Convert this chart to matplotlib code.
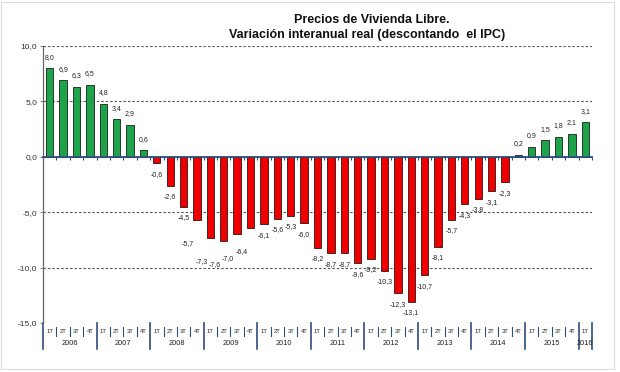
import matplotlib
matplotlib.use("Agg")
import matplotlib.pyplot as plt
from matplotlib.patches import Rectangle

plt.rcParams['font.family'] = ['Liberation Sans', 'DejaVu Sans']

years = ["2006", "2007", "2008", "2009", "2010", "2011", "2012", "2013", "2014", "2015", "2016"]
quarters_per_year = [4, 4, 4, 4, 4, 4, 4, 4, 4, 4, 1]
quarter_names = ["1T", "2T", "3T", "4T"]
values = [8.0, 6.9, 6.3, 6.5,
          4.8, 3.4, 2.9, 0.6,
          -0.6, -2.6, -4.5, -5.7,
          -7.3, -7.6, -7.0, -6.4,
          -6.1, -5.6, -5.3, -6.0,
          -8.2, -8.7, -8.7, -9.6,
          -9.2, -10.3, -12.3, -13.1,
          -10.7, -8.1, -5.7, -4.3,
          -3.8, -3.1, -2.3, 0.2,
          0.9, 1.5, 1.8, 2.1,
          3.1]
yticks = [10, 5, 0, -5, -10, -15]

# extra label displacement (pixels) for crowded labels
label_shift = {11: (-9, -13), 12: (-9, -13), 13: (-9, -13), 14: (-9, -13), 15: (-9, -13)}

W, H = 620, 372
fig = plt.figure(figsize=(W / 100, H / 100), dpi=100)
fig.patch.set_facecolor("white")
fig.add_artist(Rectangle((0.002, 0.008), 0.99 - 0.002, 0.995 - 0.008, transform=fig.transFigure,
                         fill=False, edgecolor="#dcdcdc", lw=0.8))

left, right, top, bottom = 43, 592, 46, 323
ax = fig.add_axes([left / W, 1 - bottom / H, (right - left) / W, (bottom - top) / H])

n = len(values)
xs = list(range(n))
colors = ["#1ea34a" if v >= 0 else "#ee0000" for v in values]
ax.bar(xs, values, width=0.55, color=colors, edgecolor="black", linewidth=0.5, zorder=3)

ax.set_xlim(-0.5, n - 0.5)
ax.set_ylim(-15, 10)
ax.set_yticks(yticks)
ax.set_yticklabels([f"{t:.1f}".replace(".", ",") for t in yticks], fontsize=6, color="#333333")
ax.yaxis.grid(True, linestyle=(0, (2.2, 1.8)), color="#555555", linewidth=0.8, zorder=1)
ax.set_axisbelow(True)

for s in ["top", "right"]:
    ax.spines[s].set_visible(False)
ax.spines["left"].set_color("#666666")
ax.spines["left"].set_linewidth(0.9)
ax.spines["bottom"].set_position(("data", 0))
ax.spines["bottom"].set_color("#2e4d7b")
ax.spines["bottom"].set_linewidth(1.3)
ax.spines["bottom"].set_zorder(4)
ax.set_xticks([])
ax.set_xticks([i - 0.5 for i in range(n + 1)], minor=True)
ax.tick_params(axis="x", which="minor", length=2, width=0.8, color="#2e4d7b", direction="out")
ax.tick_params(axis="y", length=2, width=0.6, color="#666666", pad=2)

px2pt = 0.72
for i, v in enumerate(values):
    dx, dy = label_shift.get(i, (0, 0))
    base = 11 if v >= 0 else -11
    ax.annotate(f"{v:.1f}".replace(".", ","), (i, v),
                xytext=((dx) * px2pt, (base + dy) * px2pt), textcoords="offset points",
                ha="center", va="center", fontsize=5, color="#222222")

# category axis below the plot
trans = ax.get_xaxis_transform()
ah = bottom - top
sep_color = "#2e4d7b"
pos = 0
for y, nq in zip(years, quarters_per_year):
    ax.plot([pos - 0.5, pos - 0.5], [0, -26 / ah], transform=trans, color=sep_color,
            lw=1.2, clip_on=False)
    for q in range(nq):
        if q > 0:
            ax.plot([pos + q - 0.5, pos + q - 0.5], [-4 / ah, -13 / ah], transform=trans,
                    color=sep_color, lw=0.8, clip_on=False)
        ax.text(pos + q, -8.5 / ah, quarter_names[q], transform=trans, ha="center", va="center",
                fontsize=4.2, color="#222222")
    ax.text(pos + (nq - 1) / 2, -20.5 / ah, y, transform=trans, ha="center", va="center",
            fontsize=5.3, color="#222222")
    pos += nq
ax.plot([pos - 0.5, pos - 0.5], [0, -26 / ah], transform=trans, color=sep_color,
        lw=1.2, clip_on=False)

fig.text(372 / W, 1 - 20 / H, "Precios de Vivienda Libre.", ha="center", va="center",
         fontsize=9, fontweight="bold", color="#111111")
fig.text(367 / W, 1 - 35 / H, "Variación interanual real (descontando  el IPC)", ha="center",
         va="center", fontsize=9, fontweight="bold", color="#111111")

fig.savefig("out.png", dpi=100, facecolor="white")
